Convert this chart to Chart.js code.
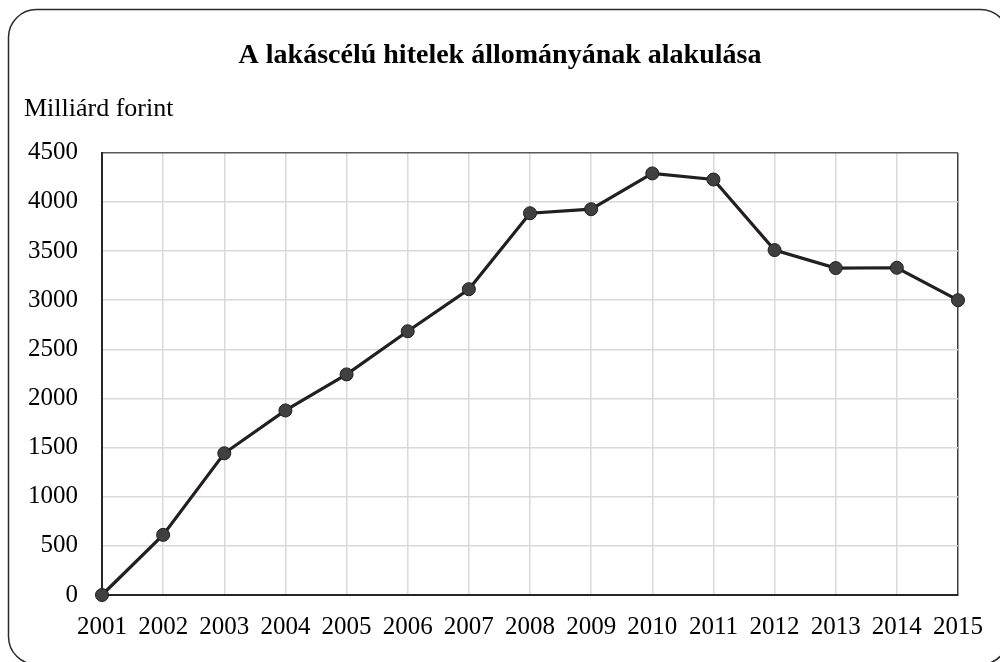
<!DOCTYPE html>
<html>
<head>
<meta charset="utf-8">
<script src="https://cdn.jsdelivr.net/npm/chart.js@4/dist/chart.umd.min.js"></script>
<style>
  html, body { margin: 0; padding: 0; background: #ffffff; }
  #wrap { width: 1000px; height: 662px; position: relative; }
</style>
</head>
<body>
<div id="wrap"><canvas id="c" width="1000" height="662"></canvas></div>
<script>
const titleText = 'A lakáscélú hitelek állományának alakulása';
const unitText = 'Milliárd forint';
const years = ['2001','2002','2003','2004','2005','2006','2007','2008','2009','2010','2011','2012','2013','2014','2015'];
const loanStock = [0, 612, 1442, 1878, 2245, 2684, 3112, 3885, 3926, 4290, 4228, 3510, 3327, 3330, 3000];
const yMin = 0;
const yMax = 4500;
const yStep = 500;

const FONT = "'Liberation Serif', 'Times New Roman', serif";

const framePlugin = {
  id: 'frame',
  beforeDraw(chart) {
    const ctx = chart.ctx;
    ctx.save();
    ctx.fillStyle = '#ffffff';
    ctx.fillRect(0, 0, chart.width, chart.height);
    ctx.strokeStyle = '#2b2b2b';
    ctx.lineWidth = 1.5;
    ctx.beginPath();
    ctx.roundRect(8.5, 9.5, 1000, 655, 28);
    ctx.stroke();
    ctx.restore();
  }
};

new Chart(document.getElementById('c'), {
  type: 'line',
  data: {
    labels: years,
    datasets: [{
      data: loanStock,
      borderColor: '#231f20',
      borderWidth: 3.2,
      pointBackgroundColor: '#404040',
      pointBorderColor: '#1f1f1f',
      pointBorderWidth: 1,
      pointRadius: 6.5,
      pointHoverRadius: 6.5,
      tension: 0,
      clip: false
    }]
  },
  options: {
    responsive: false,
    animation: false,
    devicePixelRatio: 1,
    layout: { padding: { left: 24, right: 24, top: 0, bottom: 0 } },
    plugins: {
      legend: { display: false },
      tooltip: { enabled: false },
      title: {
        display: true,
        text: titleText,
        color: '#000000',
        font: { family: FONT, size: 28, weight: 'bold' },
        padding: { top: 39, bottom: 0 }
      },
      subtitle: {
        display: true,
        text: unitText,
        align: 'start',
        color: '#000000',
        font: { family: FONT, size: 26 },
        padding: { top: 21, bottom: 28 }
      }
    },
    scales: {
      x: {
        type: 'category',
        offset: false,
        grid: {
          drawTicks: false,
          color: (c) => c.index === years.length - 1 ? '#404040' : '#d9d9d9',
          lineWidth: 1.5
        },
        border: { display: true, color: '#262626', width: 2 },
        ticks: {
          color: '#000000',
          font: { family: FONT, size: 25 },
          padding: 17,
          maxRotation: 0,
          autoSkip: false
        },
        afterFit: (s) => { s.height = 67; s.paddingLeft = 0; s.paddingRight = 0; }
      },
      y: {
        min: yMin,
        max: yMax,
        grid: {
          drawTicks: false,
          color: (c) => c.index === (yMax - yMin) / yStep ? '#595959' : '#d9d9d9',
          lineWidth: 1.5
        },
        border: { display: true, color: '#262626', width: 2 },
        ticks: {
          stepSize: yStep,
          color: '#000000',
          font: { family: FONT, size: 25 },
          padding: 24,
          callback: (v) => String(v)
        },
        afterFit: (s) => { s.width = 78; }
      },
      yRight: {
        position: 'right',
        display: true,
        min: yMin,
        max: yMax,
        grid: { display: false, drawTicks: false },
        border: { display: false },
        ticks: { display: false },
        afterFit: (s) => { s.width = 18; }
      }
    }
  },
  plugins: [framePlugin]
});
</script>
</body>
</html>
